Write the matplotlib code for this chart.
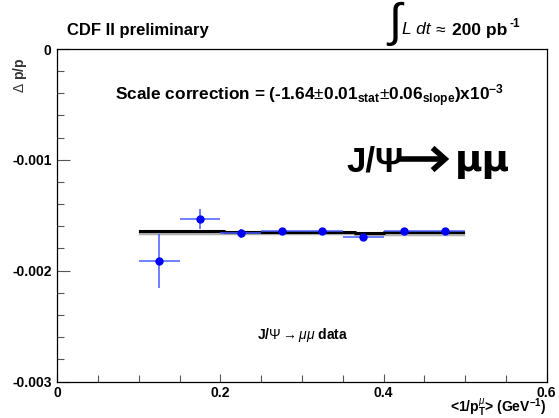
import matplotlib
matplotlib.use("Agg")
import matplotlib.pyplot as plt
from matplotlib.patches import FancyArrowPatch
import numpy as np

plt.rcParams['font.family'] = ['Liberation Sans', 'DejaVu Sans']
plt.rcParams['mathtext.fontset'] = 'custom'
plt.rcParams['mathtext.rm'] = 'Liberation Sans'
plt.rcParams['mathtext.it'] = 'Liberation Sans:italic'
plt.rcParams['mathtext.bf'] = 'Liberation Sans:bold'

# Momentum-scale measurement in bins of <1/pT>
inv_pt = [0.125, 0.175, 0.225, 0.275, 0.325, 0.375, 0.425, 0.475]
inv_pt_err = [0.025] * 8
dp_over_p = [-1.913e-3, -1.531e-3, -1.663e-3, -1.643e-3, -1.643e-3, -1.693e-3, -1.639e-3, -1.639e-3]
dp_err = [2.4e-4, 9.0e-5, 4.0e-5, 2.0e-5, 2.0e-5, 2.0e-5, 2.0e-5, 2.0e-5]

# Fitted scale correction, drawn as a step curve
fit_edges = [0.1015, 0.204, 0.365, 0.40, 0.497]
fit_vals = [-1.645e-3, -1.652e-3, -1.660e-3, -1.655e-3]

W, H = 559, 418
fig = plt.figure(figsize=(W / 100, H / 100), dpi=100)
ax = fig.add_axes([57.3 / W, 1 - 381.5 / H, (546.7 - 57.3) / W, (381.5 - 49) / H])

# fit curve with soft shadow
fx = np.repeat(fit_edges, 2)[1:-1]
fy = np.repeat(fit_vals, 2)
ax.plot(fx, np.array(fy) - 0.012e-3, color='#b0b0b0', lw=2.5, zorder=2)
ax.plot(fx, fy, color='black', lw=2.2, zorder=3)

ax.errorbar(inv_pt, dp_over_p, xerr=inv_pt_err, yerr=dp_err, fmt='o',
            color='#0000ff', ecolor='#4a5cff', elinewidth=1.1, capsize=0,
            markersize=5, zorder=4)

ax.set_xlim(0, 0.6)
ax.set_ylim(-0.003, 0)
ax.set_xticks([0, 0.2, 0.4, 0.6])
ax.set_xticklabels(['0', '0.2', '0.4', '0.6'])
ax.set_xticks(np.arange(0, 0.6001, 0.05), minor=True)
ax.set_yticks([0, -0.001, -0.002, -0.003])
ax.set_yticklabels(['0', '-0.001', '-0.002', '-0.003'])
ax.set_yticks(np.arange(-0.003, 0.00001, 0.0002), minor=True)
ax.tick_params(which='both', direction='in', top=False, right=False, width=0.8,
               color='#555555')
ax.tick_params(which='major', length=9, labelsize=10, pad=4)
ax.tick_params(which='minor', length=5)
ax.tick_params(axis='x', which='major', length=6, pad=3)
for lab in ax.get_xticklabels() + ax.get_yticklabels():
    lab.set_fontweight('bold')
for sp in ax.spines.values():
    sp.set_linewidth(0.9)

def fx_(x):
    return x / W

def fy_(y):
    return 1 - y / H

fig.text(fx_(67), fy_(30), 'CDF II preliminary', fontsize=12, fontweight='bold',
         va='center', ha='left')

# integrated luminosity
fig.text(fx_(386), fy_(24), r'$\int$', fontsize=34, va='center', ha='left')
fig.text(fx_(402), fy_(30), 'L dt', fontsize=12.5, fontstyle='italic',
         va='center', ha='left')
fig.text(fx_(435), fy_(30), '≈', fontsize=12.5, va='center', ha='left')
fig.text(fx_(452), fy_(30), '200 pb', fontsize=12.5, fontweight='bold',
         va='center', ha='left')
fig.text(fx_(510), fy_(24), '-1', fontsize=8.5, fontweight='bold',
         va='center', ha='left')

fig.text(fx_(20), fy_(58), r'$\Delta$ p/p', rotation=90, fontsize=10,
         fontweight='bold', va='top', ha='center', color='#333333')

fig.text(fx_(310), fy_(96),
         r'Scale correction = (-1.64$\pm$0.01$_{\mathbf{stat}}$$\pm$0.06$_{\mathbf{slope}}$)x10$^{\mathbf{-3}}$',
         fontsize=12.4, fontweight='bold', va='center', ha='center')

# big process label: J/Psi -> mu mu
fig.text(fx_(346), fy_(171), 'J/Ψ', fontsize=25, fontweight='bold',
         va='baseline', ha='left')
arrow = FancyArrowPatch((fx_(396), fy_(159)), (fx_(452), fy_(159)),
                        transform=fig.transFigure,
                        arrowstyle='->,head_length=9,head_width=8',
                        lw=4, color='black', capstyle='butt',
                        joinstyle='miter', mutation_scale=1)
fig.add_artist(arrow)
fig.text(fx_(455), fy_(171), 'μμ', fontsize=27, fontweight='bold',
         va='baseline', ha='left', family='DejaVu Sans')

fig.text(fx_(303), fy_(335), r'J/$\Psi\rightarrow\mu\mu$ data', fontsize=10,
         fontweight='bold', va='center', ha='center')
fig.text(fx_(546), fy_(408), r'<1/p$_{\mathbf{T}}^{\mu}$> (GeV$^{\mathbf{-1}}$)',
         fontsize=10, fontweight='bold', va='center', ha='right')

fig.savefig('out.png', dpi=100)
